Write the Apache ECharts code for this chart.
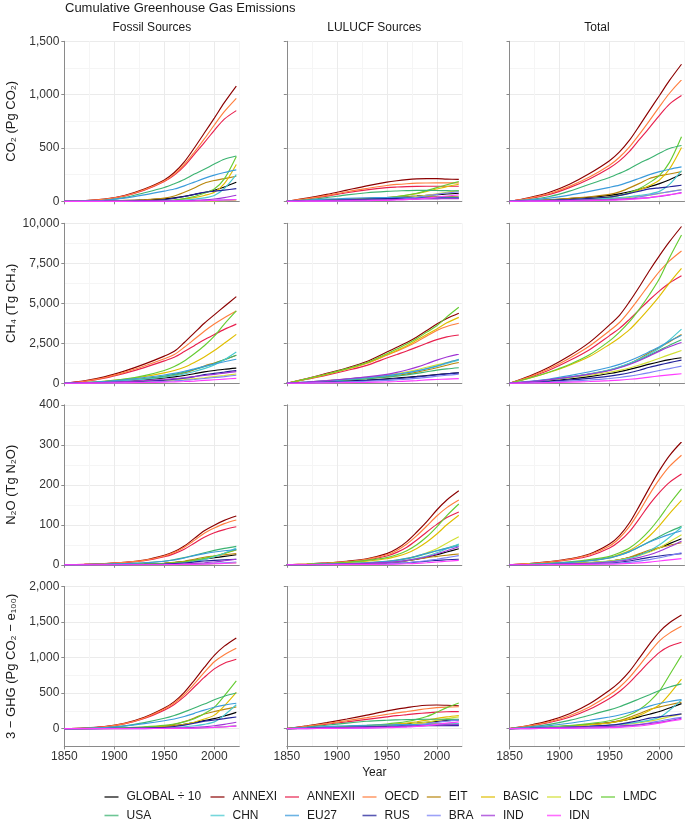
<!DOCTYPE html>
<html><head><meta charset="utf-8">
<script src="https://cdn.jsdelivr.net/npm/echarts@6/dist/echarts.min.js"></script>
<style>html,body{margin:0;padding:0;background:#fff}#c{width:685px;height:825px}</style>
</head><body><div id="c"></div>
<script>
// ---------- DATA ----------
const YEARS = [1850, 1870, 1890, 1910, 1930, 1950, 1960, 1970, 1980, 1990, 2000, 2010, 2022];
const SERIES_NAMES = ['GLOBAL ÷ 10','ANNEXI','ANNEXII','OECD','EIT','BASIC','LDC','LMDC','USA','CHN','EU27','RUS','BRA','IND','IDN'];
const SERIES_COLORS = ['#000000','#8B0000','#E8204E','#FF7F3F','#B8860B','#E0BE00','#D2E033','#66CC33','#3CB371','#48C9D0','#3B9BDB','#22229B','#7C83F5','#A035D5','#FF3DFF'];
const COLUMN_TITLES = ['Fossil Sources', 'LULUCF Sources', 'Total'];
const ROW_TITLES = ['CO₂ (Pg CO₂)', 'CH₄ (Tg CH₄)', 'N₂O (Tg N₂O)', '3 − GHG (Pg CO₂ − e₁₀₀)'];
const X_TICKS = [1850, 1900, 1950, 2000];
const Y_TICKS_CO2 = [0, 500, 1000, 1500];
const Y_TICKS_CH4 = [0, 2500, 5000, 7500, 10000];
const Y_TICKS_N2O = [0, 100, 200, 300, 400];
const Y_TICKS_GHG = [0, 500, 1000, 1500, 2000];

// order: GLOBAL, ANNEXI, ANNEXII, OECD, EIT, BASIC, LDC, LMDC, USA, CHN, EU27, RUS, BRA, IND, IDN
const CO2_FOSSIL = [
 [0,0.6,2.2,6.5,13,23,32,46,64,82,104,134,178],
 [0,6,20,55,115,200,270,370,500,640,780,925,1080],
 [0,5,17,48,103,185,245,330,440,550,665,770,850],
 [0,5,18,50,108,190,255,345,460,585,715,840,965],
 [0,0.3,2,8,15,30,50,85,125,170,195,212,235],
 [0,0,0,0.6,2,4,10,20,35,55,85,165,345],
 [0,0,0,0,0,0.2,0.5,1,1.5,2.5,4,6,10],
 [0,0,0,0.5,2,5,12,25,45,75,115,210,420],
 [0,2,10,35,80,130,165,205,255,300,350,395,425],
 [0,0,0,0.3,1,2,6,12,20,32,55,120,250],
 [0,3,10,30,60,95,115,145,180,215,245,270,295],
 [0,0.2,1,3,7,15,28,45,65,85,95,105,119],
 [0,0,0,0,0.2,0.5,1,2,4,7,10,13,17],
 [0,0,0,0.3,1,2,3,5,8,13,22,35,57],
 [0,0,0,0,0.2,0.5,1,1.5,3,5,9,12,16]
];
const CO2_LULUCF = [
 [0,6,12,18,25,33,38,43,49,56,62,68,75],
 [0,30,65,105,145,180,193,203,210,213,212,208,205],
 [0,22,48,80,107,128,134,138,140,141,141,141,141],
 [0,25,55,90,120,148,158,165,170,172,173,173,173],
 [0,5,12,20,28,35,38,41,43,44,44,44,43],
 [0,3,7,13,22,35,45,57,72,92,115,138,160],
 [0,3,7,12,18,25,30,36,45,55,70,85,100],
 [0,3,7,13,22,35,45,58,75,100,128,155,185],
 [0,15,35,60,80,93,97,100,102,102,101,100,98],
 [0,5,10,15,20,25,28,32,35,37,38,38,37],
 [0,10,20,28,33,36,37,37,36,35,33,31,28],
 [0,3,8,14,20,25,27,29,30,31,31,31,31],
 [0,1,2,4,7,12,17,25,38,52,65,78,90],
 [0,3,6,9,12,15,17,19,21,22,23,24,25],
 [0,1,2,4,6,9,12,16,22,30,40,50,60]
];
const CO2_TOTAL = [
 [0,6.6,14.2,24.5,38,56,70,89,113,138,166,202,253],
 [0,36,85,160,260,380,463,573,710,853,992,1133,1285],
 [0,27,65,128,210,313,379,468,580,691,806,911,991],
 [0,30,73,140,228,338,413,510,630,757,888,1013,1138],
 [0,5.3,14,28,43,65,88,126,168,214,239,256,278],
 [0,3,7,13.6,24,39,55,77,107,147,200,303,505],
 [0,3,7,12,18,25.2,30.5,37,46.5,57.5,74,91,110],
 [0,3,7,13.5,24,40,57,83,120,175,243,365,605],
 [0,17,45,95,160,223,262,305,357,402,451,495,523],
 [0,5,10,15.3,21,27,34,44,55,69,93,158,287],
 [0,13,30,58,93,131,152,182,216,250,278,301,323],
 [0,3.2,9,17,27,40,55,74,95,116,126,136,150],
 [0,1,2,4,7.2,12.5,18,27,42,59,75,91,107],
 [0,3,6,9.3,13,17,20,24,29,35,45,59,82],
 [0,1,2,4,6.2,9.5,13,17.5,25,35,49,62,76]
];
const CH4_FOSSIL = [
 [0,25,65,130,220,330,400,490,600,710,800,880,950],
 [0,150,400,760,1200,1700,2000,2550,3150,3750,4280,4800,5420],
 [0,120,320,620,980,1400,1630,1980,2350,2720,3050,3370,3700],
 [0,130,350,680,1080,1530,1800,2250,2750,3250,3700,4100,4520],
 [0,30,80,160,270,400,500,650,850,1080,1270,1470,1750],
 [0,50,130,250,420,650,800,1000,1300,1650,2050,2500,3060],
 [0,20,45,80,120,170,200,240,290,350,420,490,580],
 [0,50,130,260,480,800,1050,1400,1850,2350,2950,3700,4520],
 [0,30,90,180,300,450,560,700,860,1040,1240,1480,1750],
 [0,30,80,150,250,380,470,590,740,920,1150,1470,1950],
 [0,40,110,220,360,520,620,750,900,1060,1210,1350,1500],
 [0,15,40,80,130,200,250,320,420,540,620,700,800],
 [0,10,25,45,75,120,150,190,240,300,360,420,500],
 [0,25,60,110,170,240,290,350,420,490,560,640,730],
 [0,8,18,30,50,75,90,110,140,180,220,260,310]
];
const CH4_LULUCF = [
 [0,40,85,140,200,280,330,380,430,490,550,600,650],
 [0,300,620,960,1360,1950,2250,2550,2900,3300,3700,4050,4380],
 [0,250,510,800,1120,1580,1800,2020,2260,2500,2730,2900,3020],
 [0,280,570,890,1250,1750,2000,2280,2600,2950,3300,3550,3750],
 [0,60,130,210,300,420,500,590,700,830,970,1130,1300],
 [0,270,560,880,1250,1780,2050,2350,2700,3050,3400,3780,4120],
 [0,80,170,270,380,520,610,720,850,1000,1150,1300,1470],
 [0,280,580,920,1300,1850,2150,2450,2800,3200,3600,4150,4750],
 [0,60,125,200,280,380,450,530,620,720,820,900,970],
 [0,70,150,240,340,470,560,660,780,910,1060,1240,1440],
 [0,80,160,260,360,480,560,660,780,920,1080,1280,1500],
 [0,40,80,130,180,250,290,340,400,460,530,590,650],
 [0,25,55,90,130,180,215,255,310,370,440,500,570],
 [0,80,170,280,400,560,680,830,1010,1220,1450,1640,1820],
 [0,10,25,40,60,90,110,140,170,210,240,265,290]
];
const CH4_TOTAL = [
 [0,65,150,270,420,610,730,870,1030,1200,1350,1480,1600],
 [0,450,1020,1720,2560,3650,4250,5100,6050,7050,7980,8850,9800],
 [0,370,830,1420,2100,2980,3430,4000,4610,5220,5780,6270,6720],
 [0,410,920,1570,2330,3280,3800,4530,5350,6200,7000,7650,8270],
 [0,90,210,370,570,820,1000,1240,1550,1910,2240,2600,3050],
 [0,320,690,1130,1670,2430,2850,3350,4000,4700,5450,6280,7180],
 [0,100,215,350,500,690,810,960,1140,1350,1570,1790,2050],
 [0,330,710,1180,1780,2650,3200,3850,4650,5550,6550,7850,9270],
 [0,90,215,380,580,830,1010,1230,1480,1760,2060,2380,2720],
 [0,100,230,390,590,850,1030,1250,1520,1830,2210,2710,3390],
 [0,120,270,480,720,1000,1180,1410,1680,1980,2290,2630,3000],
 [0,55,120,210,310,450,540,660,820,1000,1150,1290,1450],
 [0,35,80,135,205,300,365,445,550,670,800,920,1070],
 [0,105,230,390,570,800,970,1180,1430,1710,2010,2280,2550],
 [0,18,43,70,110,165,200,250,310,390,460,525,600]
];
const N2O_FOSSIL = [
 [0,0.3,0.8,1.5,2.5,4,5.5,8,11,14.5,17.5,21,25],
 [0,1,3,6,12,24,33,47,66,85,99,111,122],
 [0,1,2.5,5.5,10,20,28,39,54,69,80,88,95],
 [0,1,3,6,11,22,31,44,61,79,92,103,112],
 [0,0.2,0.6,1.2,2,4,6,9,14,19,22,25,28],
 [0,0,0.5,1,2,3,5,7,10,15,21,28,37],
 [0,0,0,0.1,0.2,0.4,0.6,1,1.5,2,2.8,3.8,5],
 [0,0,0.5,1,2,3,5,7,11,16,22,29,38],
 [0,0.5,1.5,3,5,9,13,18,24,30,36,41,46],
 [0,0,0.3,0.6,1,2,3,5,8,13,20,29,42],
 [0,0.5,1.5,3,5,9,12,17,23,28,32,35,38],
 [0,0.1,0.3,0.6,1,2,3,4.5,7,9.5,11,12.5,14],
 [0,0,0,0.1,0.2,0.4,0.6,1,1.6,2.5,3.5,5,7],
 [0,0,0.1,0.3,0.5,1,1.5,2,3.5,5,7,10,14],
 [0,0,0,0.1,0.2,0.3,0.5,0.8,1.2,1.8,2.5,3.3,4.5]
];
const N2O_LULUCF = [
 [0,0.4,1,1.8,3,5,7,10,14,19,25,32,40],
 [0,2,5,9,15,28,40,58,82,108,137,162,185],
 [0,1.5,4,7,12,22,31,44,62,82,101,118,132],
 [0,2,4.5,8,14,25,36,52,73,97,122,143,162],
 [0,0.4,1,1.8,3,5,7,10,14,18,21,24,27],
 [0,1.2,3,5.5,9,15,21,29,41,57,77,100,124],
 [0,1,2,3.5,5.5,9,12,16,22,30,40,54,70],
 [0,1.5,3.5,6.5,11,18,25,35,50,70,95,123,152],
 [0,0.5,1.5,3,5,8,11,15,21,28,35,42,50],
 [0,0.5,1.2,2.2,3.5,6,8,11,16,22,30,40,52],
 [0,0.6,1.6,3,5,8.5,12,16,22,29,35,41,47],
 [0,0.2,0.5,1,1.6,2.6,3.5,5,7,9,11,12.5,14],
 [0,0.2,0.5,1,1.6,2.6,3.6,5,7.5,10.5,14,18,23],
 [0,0.5,1.2,2.2,3.5,6,8,11,15,20,27,35,45],
 [0,0.1,0.3,0.5,0.8,1.3,1.8,2.5,3.5,5,7,9,11]
];
const N2O_TOTAL = [
 [0,0.7,1.8,3.3,5.5,9,12.5,18,25,33.5,42.5,53,65],
 [0,3,8,15,27,52,73,105,148,193,236,273,307],
 [0,2.5,6.5,12.5,22,42,59,83,116,151,181,206,227],
 [0,3,7.5,14,25,47,67,96,134,176,214,246,274],
 [0,0.6,1.6,3,5,9,13,19,28,37,43,49,55],
 [0,1.2,3.5,6.5,11,18,26,36,51,72,98,128,161],
 [0,1,2,3.6,5.7,9.4,12.6,17,23.5,32,42.8,57.8,75],
 [0,1.5,4,7.5,13,21,30,42,61,86,117,152,190],
 [0,1,3,6,10,17,24,33,45,58,71,83,96],
 [0,0.5,1.5,2.8,4.5,8,11,16,24,35,50,69,94],
 [0,1.1,3.1,6,10,17.5,24,33,45,57,67,76,85],
 [0,0.3,0.8,1.6,2.6,4.6,6.5,9.5,14,18.5,22,25,28],
 [0,0.2,0.5,1.1,1.8,3,4.2,6,9.1,13,17.5,23,30],
 [0,0.5,1.3,2.5,4,7,9.5,13,18.5,25,34,45,59],
 [0,0.1,0.3,0.6,1,1.6,2.3,3.3,4.7,6.8,9.5,12.3,15.5]
];
const GHG_FOSSIL = [
 [0,1,3.5,9,18,32,44,62,86,113,140,178,228],
 [0,8,28,75,160,290,380,510,680,860,1030,1160,1275],
 [0,7,24,66,142,260,340,450,585,720,840,920,975],
 [0,7,25,70,150,275,360,480,630,790,940,1040,1130],
 [0,1,3,9,18,35,60,100,150,205,240,270,305],
 [0,1,4,8,16,28,40,60,90,135,190,320,510],
 [0,0.2,0.5,1,2,3,4,6,9,13,19,27,38],
 [0,2,6,12,25,45,65,95,140,210,300,460,670],
 [0,3,12,38,85,145,185,235,290,345,405,455,500],
 [0,0.5,1.5,3,6,10,16,26,40,60,95,190,335],
 [0,4,14,36,70,110,135,170,215,260,300,330,357],
 [0,0.5,1.5,4,9,18,30,50,75,105,122,140,164],
 [0,0,0.3,0.6,1,2,3,5,8,13,19,27,38],
 [0,0.5,1,2,3.5,6,8,12,18,27,40,60,90],
 [0,0,0.2,0.4,0.8,1.5,2.5,4,7,12,18,25,35]
];
const GHG_LULUCF = [
 [0,9,19,29,40,53,61,69,79,90,101,112,123],
 [0,40,85,135,190,250,275,295,315,328,332,328,322],
 [0,30,62,95,130,165,182,196,210,222,232,237,240],
 [0,35,72,112,155,200,222,240,260,280,295,303,308],
 [0,8,18,28,38,48,53,58,62,65,66,66,66],
 [0,7,15,25,37,52,63,77,97,120,145,165,185],
 [0,6,13,21,30,42,50,60,75,92,115,140,165],
 [0,8,18,30,45,65,80,100,130,170,230,295,360],
 [0,22,48,78,103,118,123,127,130,132,132,131,130],
 [0,7,15,22,30,38,43,48,54,60,64,68,70],
 [0,14,28,40,48,54,56,57,57,56,54,52,50],
 [0,4,10,17,24,31,34,37,40,42,43,43,43],
 [0,1,3,6,10,16,22,32,48,68,88,105,120],
 [0,5,10,15,20,26,30,34,39,44,48,52,56],
 [0,1,3,5,8,12,16,22,30,43,60,78,95]
];
const GHG_TOTAL = [
 [0,10,22.5,38,58,85,105,131,165,203,241,290,351],
 [0,48,113,210,350,540,655,805,995,1188,1362,1488,1597],
 [0,37,86,161,272,425,522,646,795,942,1072,1157,1215],
 [0,42,97,182,305,475,582,720,890,1070,1235,1343,1438],
 [0,9,21,37,56,83,113,158,212,270,306,336,371],
 [0,8,19,33,53,80,103,137,187,255,335,485,695],
 [0,6.2,13.5,22,32,45,54,66,84,105,134,167,203],
 [0,10,24,42,70,110,145,195,270,380,530,755,1030],
 [0,25,60,116,188,263,308,362,420,477,537,586,630],
 [0,7.5,16.5,25,36,48,59,74,94,120,159,258,405],
 [0,18,42,76,118,164,191,227,272,316,354,382,407],
 [0,4.5,11.5,21,33,49,64,87,115,147,165,183,207],
 [0,1,3.3,6.6,11,18,25,37,56,81,107,132,158],
 [0,5.5,11,17,23.5,32,38,46,57,71,88,112,146],
 [0,1,3.2,5.4,8.8,13.5,18.5,26,37,55,78,103,130]
];

// ---------- LAYOUT / STYLE ----------
const FONT = '"Liberation Sans", Arial, Helvetica, sans-serif';
const AXIS_COL = '#8a8a8a', MAJ = '#ebebeb', MIN = '#f5f5f5', TXT = '#333333';
const rows = [
  {panels:[CO2_FOSSIL, CO2_LULUCF, CO2_TOTAL], min:0, max:1500, step:250, ticks:Y_TICKS_CO2, grid:[MAJ, MIN]},
  {panels:[CH4_FOSSIL, CH4_LULUCF, CH4_TOTAL], min:0, max:10000, step:1250, ticks:Y_TICKS_CH4, grid:[MAJ, MIN]},
  {panels:[N2O_FOSSIL, N2O_LULUCF, N2O_TOTAL], min:0, max:400, step:50, ticks:Y_TICKS_N2O, grid:[MAJ, MIN]},
  {panels:[GHG_FOSSIL, GHG_LULUCF, GHG_TOTAL], min:-250, max:2000, step:250, ticks:Y_TICKS_GHG, grid:[MIN, MAJ]}
];
const GL = [64.3, 286.8, 509.5], GT = [41.3, 223.3, 404.8, 586.4], GW = 175, GH = 160;

const grids = [], xAxes = [], yAxes = [], series = [], xOver = [], yOver = [];
rows.forEach((row, r) => {
  row.panels.forEach((panel, c) => {
    const k = r * 3 + c;
    grids.push({left: GL[c], top: GT[r], width: GW, height: GH, containLabel: false});
    xAxes.push({type:'value', gridIndex:k, min:1850, max:2025, interval:25, position:'bottom',
      axisLine:{show:true, onZero:false, lineStyle:{color:AXIS_COL, width:1}},
      axisTick:{show:false}, axisLabel:{show:false},
      splitLine:{show:true, lineStyle:{color:[MAJ, MIN], width:1}}});
    yAxes.push({type:'value', gridIndex:k, min:row.min, max:row.max, interval:row.step, position:'left',
      axisLine:{show:true, onZero:false, lineStyle:{color:AXIS_COL, width:1}},
      axisTick:{show:false}, axisLabel:{show:false},
      splitLine:{show:true, lineStyle:{color:row.grid, width:1}}});
    xOver.push({type:'value', gridIndex:k, min:1850, max:2025, interval:25, position:'bottom',
      axisLine:{show:false, onZero:false},
      axisTick:{show:true, customValues:X_TICKS, length:3, lineStyle:{color:AXIS_COL}},
      axisLabel:{show: r === 3, customValues:X_TICKS, margin:4, color:TXT, fontSize:12, fontFamily:FONT,
        formatter: v => String(v)},
      splitLine:{show:false}});
    yOver.push({type:'value', gridIndex:k, min:row.min, max:row.max, interval:row.step, position:'left',
      axisLine:{show:false, onZero:false},
      axisTick:{show:true, customValues:row.ticks, length:3, lineStyle:{color:AXIS_COL}},
      axisLabel:{show: c === 0, customValues:row.ticks, margin:5, color:TXT, fontSize:12, fontFamily:FONT,
        formatter: v => Number(v).toLocaleString('en-US')},
      splitLine:{show:false}});
    panel.forEach((vals, s) => {
      series.push({type:'line', name:SERIES_NAMES[s], xAxisIndex:k, yAxisIndex:k,
        data: YEARS.map((y, i) => [y, vals[i]]),
        showSymbol:false, smooth:0.3, silent:true, animation:false, clip:true,
        lineStyle:{width:1.15, color:SERIES_COLORS[s]}, itemStyle:{color:SERIES_COLORS[s]}});
    });
  });
});

// legends: 8 columns x 2 rows
const LEG_X = [104.5, 210.5, 285, 362.5, 426.8, 481, 547, 601];
const LEG_Y = [791, 809.5];
const legends = SERIES_NAMES.map((n, i) => ({
  data:[n], left: LEG_X[i % 8], top: LEG_Y[Math.floor(i / 8)], padding:0, itemGap:0,
  icon:'rect', itemWidth:14, itemHeight:1.6, selectedMode:false,
  itemStyle:{opacity:0.75},
  textStyle:{fontSize:12, color:'#1a1a1a', fontFamily:FONT, padding:[0,0,0,3]}
}));

const graphics = [
  {type:'text', x:65, y:8, style:{text:'Cumulative Greenhouse Gas Emissions', font:'13px ' + FONT, fill:'#1a1a1a', textVerticalAlign:'middle'}},
  {type:'text', x:374.3, y:773, style:{text:'Year', font:'12px ' + FONT, fill:'#1a1a1a', textAlign:'center', textVerticalAlign:'middle'}}
];
COLUMN_TITLES.forEach((t, c) => graphics.push({type:'text', x: GL[c] + GW / 2, y: 28,
  style:{text:t, font:'12px ' + FONT, fill:'#1a1a1a', textAlign:'center', textVerticalAlign:'middle'}}));
ROW_TITLES.forEach((t, r) => graphics.push({type:'text', x: 11, y: GT[r] + GH / 2, rotation: Math.PI / 2,
  style:{text:t, font:'13px ' + FONT, fill:'#1a1a1a', textAlign:'center', textVerticalAlign:'middle'}}));

const chart = echarts.init(document.getElementById('c'), null, {renderer:'canvas'});
chart.setOption({
  animation:false,
  backgroundColor:'#ffffff',
  grid: grids,
  xAxis: xAxes.concat(xOver),
  yAxis: yAxes.concat(yOver),
  legend: legends,
  graphic: graphics,
  series: series
});
</script></body></html>
